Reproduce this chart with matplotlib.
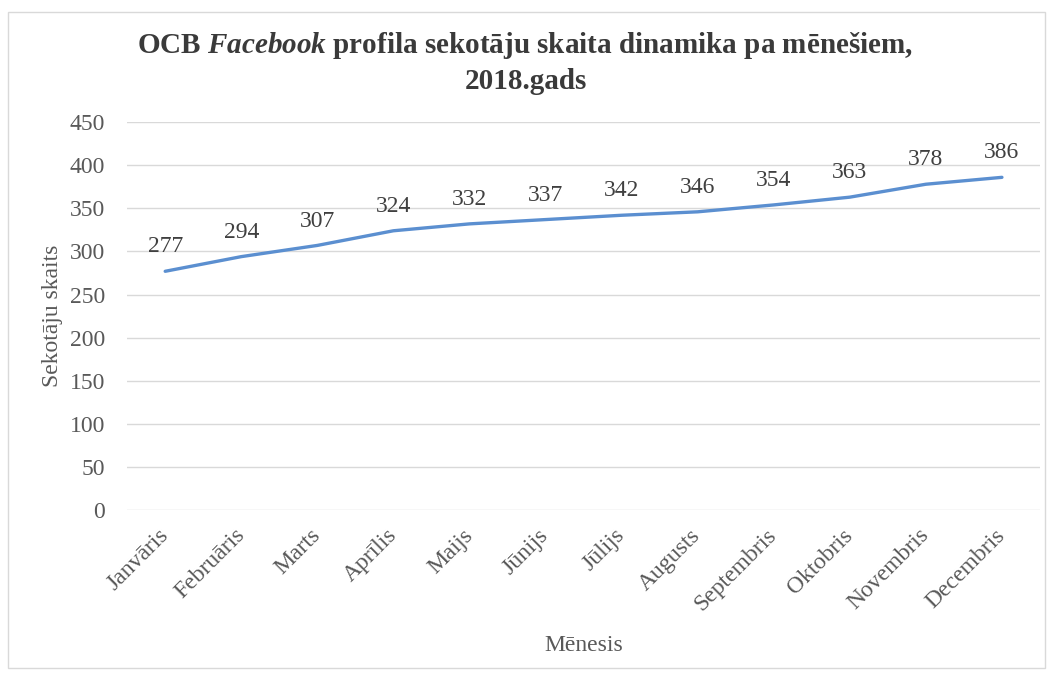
import matplotlib
matplotlib.use("Agg")
import matplotlib.pyplot as plt
from matplotlib.patches import Rectangle

# Dati
menesi = ["Janvāris", "Februāris", "Marts", "Aprīlis", "Maijs", "Jūnijs",
          "Jūlijs", "Augusts", "Septembris", "Oktobris", "Novembris", "Decembris"]
sekotaji = [277, 294, 307, 324, 332, 337, 342, 346, 354, 363, 378, 386]
y_ticks = [0, 50, 100, 150, 200, 250, 300, 350, 400, 450]

plt.rcParams["font.family"] = ["Liberation Serif", "DejaVu Serif"]
# slīpraksts virsrakstā (Facebook) ar to pašu serif fontu
plt.rcParams["mathtext.fontset"] = "custom"
plt.rcParams["mathtext.it"] = "Liberation Serif:italic:bold"
plt.rcParams["mathtext.rm"] = "Liberation Serif:bold"

fig = plt.figure(figsize=(10.51, 6.75), dpi=100)
ax = fig.add_axes([0.121, 0.2444, 0.8685, 0.5746])

x = range(len(menesi))
ax.plot(x, sekotaji, color="#5b8fd0", linewidth=2.4, solid_capstyle="round")

for xi, v in zip(x, sekotaji):
    ax.annotate(str(v), (xi, v), xytext=(0, 10), textcoords="offset points",
                ha="center", va="bottom", fontsize=17, color="#404040")

ax.set_xlim(-0.5, len(menesi) - 0.5)
ax.set_ylim(0, 450)
ax.set_yticks(y_ticks)
ax.set_xticks(list(x))
ax.set_xticklabels(menesi, rotation=45, ha="right", va="center", rotation_mode="anchor")
ax.tick_params(axis="both", length=0, labelsize=17, labelcolor="#595959")
ax.tick_params(axis="y", pad=16)
ax.tick_params(axis="x", pad=16)
ax.grid(True, axis="y", color="#d9d9d9", linewidth=1)
ax.set_axisbelow(True)
for s in ax.spines.values():
    s.set_visible(False)

ax.set_ylabel("Sekotāju skaits", fontsize=17, color="#595959", va="center")
ax.yaxis.set_label_coords(-0.082, 0.5)
ax.set_xlabel("Mēnesis", fontsize=17, color="#595959", va="center")
ax.xaxis.set_label_coords(0.5, -0.348)

fig.text(0.5, 0.932, "OCB $\\it{Facebook}$ profila sekotāju skaita dinamika pa mēnešiem,",
         ha="center", va="center", fontsize=21, fontweight="bold", color="#3a3a3a")
fig.text(0.5, 0.879, "2018.gads", ha="center", va="center", fontsize=21,
         fontweight="bold", color="#3a3a3a")

# Rāmis ap diagrammu
fig.patches.append(Rectangle((0.008, 0.01), 0.986, 0.972, transform=fig.transFigure,
                             fill=False, edgecolor="#d9d9d9", linewidth=1))

fig.savefig("out.png", dpi=100)
